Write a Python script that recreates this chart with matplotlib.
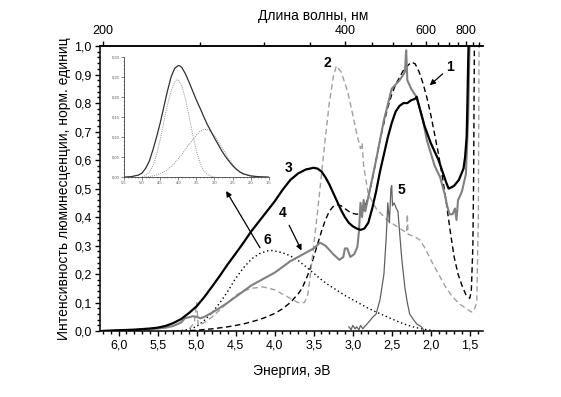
import numpy as np
import matplotlib
matplotlib.use('Agg')
import matplotlib.pyplot as plt
from matplotlib.ticker import MultipleLocator, FixedLocator, FuncFormatter

plt.rcParams['font.family'] = ['Liberation Sans', 'DejaVu Sans']

# curve 3 - black solid
e3 = [6.24, 6.0, 5.8, 5.6, 5.5, 5.4, 5.3, 5.2, 5.1, 5.0, 4.9, 4.8, 4.7, 4.6, 4.5, 4.4, 4.3, 4.2, 4.1, 4.0,
      3.9, 3.8, 3.7, 3.6, 3.5, 3.45, 3.4, 3.35, 3.3, 3.25, 3.2, 3.15, 3.1, 3.05, 3.0, 2.95, 2.9, 2.85, 2.8,
      2.75, 2.7, 2.65, 2.6, 2.55, 2.5, 2.45, 2.4, 2.35, 2.3, 2.25, 2.2, 2.18, 2.16, 2.12, 2.08, 2.04, 2.0,
      1.95, 1.9, 1.85, 1.8, 1.77, 1.73, 1.7, 1.67, 1.64, 1.61, 1.58, 1.56, 1.54, 1.53, 1.52, 1.51]
i3 = [0.0, 0.003, 0.005, 0.009, 0.012, 0.018, 0.028, 0.042, 0.063, 0.087, 0.12, 0.157, 0.195, 0.235, 0.272, 0.31, 0.35, 0.385, 0.42, 0.455,
      0.495, 0.53, 0.553, 0.567, 0.573, 0.57, 0.56, 0.54, 0.515, 0.485, 0.455, 0.425, 0.40, 0.38, 0.368, 0.36, 0.355, 0.36, 0.38,
      0.43, 0.49, 0.56, 0.62, 0.68, 0.73, 0.77, 0.79, 0.80, 0.80, 0.81, 0.815, 0.822, 0.80, 0.76, 0.72, 0.69, 0.66,
      0.63, 0.60, 0.56, 0.52, 0.50, 0.505, 0.51, 0.52, 0.53, 0.55, 0.57, 0.61, 0.68, 0.80, 0.95, 1.05]

# curve 1 - black dashed
e1 = [5.2, 5.0, 4.8, 4.6, 4.4, 4.2, 4.1, 4.0, 3.9, 3.8, 3.7, 3.65, 3.6, 3.55, 3.5, 3.45, 3.4, 3.35, 3.3,
      3.25, 3.2, 3.15, 3.1, 3.05, 3.0, 2.95, 2.9, 2.85, 2.8, 2.75, 2.7, 2.65, 2.6, 2.55, 2.5, 2.45, 2.4,
      2.35, 2.3, 2.25, 2.2, 2.15, 2.1, 2.05, 2.0, 1.95, 1.9, 1.85, 1.8, 1.75, 1.7, 1.65, 1.6, 1.55, 1.5,
      1.48, 1.46, 1.45, 1.44]
i1 = [0.0, 0.003, 0.008, 0.015, 0.025, 0.04, 0.05, 0.062, 0.078, 0.10, 0.13, 0.15, 0.18, 0.215, 0.26, 0.305, 0.35, 0.39, 0.42,
      0.437, 0.443, 0.44, 0.43, 0.42, 0.413, 0.41, 0.412, 0.43, 0.47, 0.53, 0.60, 0.67, 0.73, 0.785, 0.83, 0.865, 0.89,
      0.915, 0.93, 0.943, 0.938, 0.91, 0.87, 0.82, 0.76, 0.69, 0.62, 0.54, 0.45, 0.35, 0.26, 0.20, 0.16, 0.128, 0.115,
      0.14, 0.30, 0.55, 1.05]

# curve 2 - gray dashed
e2 = [5.2, 5.1, 5.03, 5.0, 4.98, 4.9, 4.8, 4.7, 4.6, 4.5, 4.4, 4.3, 4.15, 4.0, 3.9, 3.8, 3.7, 3.62, 3.58, 3.55,
      3.5, 3.45, 3.4, 3.35, 3.3, 3.25, 3.21, 3.15, 3.1, 3.06, 3.0, 2.95, 2.9, 2.88, 2.86, 2.8, 2.7, 2.56, 2.45,
      2.31, 2.30, 2.29, 2.2, 2.14, 2.07, 2.0, 1.94, 1.88, 1.8, 1.72, 1.63, 1.55, 1.48, 1.45, 1.41, 1.39, 1.38]
i2 = [0.0, 0.005, 0.03, 0.10, 0.02, 0.03, 0.05, 0.075, 0.10, 0.125, 0.14, 0.15, 0.155, 0.145, 0.13, 0.115, 0.10, 0.10, 0.12, 0.18,
      0.30, 0.42, 0.55, 0.68, 0.80, 0.89, 0.93, 0.91, 0.87, 0.835, 0.76, 0.695, 0.64, 0.66, 0.58, 0.48, 0.43, 0.39, 0.37,
      0.345, 0.41, 0.34, 0.33, 0.32, 0.29, 0.25, 0.22, 0.19, 0.15, 0.12, 0.095, 0.08, 0.067, 0.07, 0.10, 0.40, 1.05]

# curve 4 - gray solid
e4 = [6.24, 6.0, 5.6, 5.4, 5.3, 5.2, 5.15, 5.05, 5.0, 4.95, 4.9, 4.8, 4.7, 4.6, 4.5, 4.4, 4.3, 4.2, 4.1, 4.0, 3.9,
      3.8, 3.7, 3.6, 3.5, 3.42, 3.35, 3.25, 3.17, 3.12, 3.1, 3.07, 3.03, 2.98, 2.94, 2.92, 2.9, 2.88, 2.86,
      2.84, 2.8, 2.7, 2.6, 2.5, 2.4, 2.35, 2.33, 2.315, 2.30, 2.25, 2.18, 2.1, 2.05, 1.95, 1.88, 1.82, 1.79,
      1.76, 1.72, 1.69, 1.67, 1.65, 1.6, 1.55, 1.52, 1.50]
i4 = [0.0, 0.002, 0.006, 0.012, 0.018, 0.03, 0.045, 0.052, 0.05, 0.045, 0.05, 0.065, 0.082, 0.10, 0.12, 0.14, 0.16, 0.175, 0.19, 0.205, 0.225,
      0.245, 0.26, 0.275, 0.29, 0.31, 0.30, 0.27, 0.25, 0.26, 0.29, 0.29, 0.26, 0.27, 0.295, 0.35, 0.45, 0.40, 0.46,
      0.42, 0.47, 0.60, 0.74, 0.85, 0.88, 0.90, 0.91, 0.985, 0.88, 0.85, 0.82, 0.74, 0.67, 0.58, 0.54, 0.48, 0.44,
      0.41, 0.41, 0.43, 0.39, 0.46, 0.49, 0.55, 0.75, 1.05]

# curve 5 - narrow peak
e5 = [3.05, 3.02, 3.0, 2.97, 2.95, 2.92, 2.9, 2.87, 2.85, 2.8, 2.74, 2.7, 2.65, 2.6, 2.57, 2.55, 2.53,
      2.51, 2.5, 2.49, 2.47, 2.44, 2.42, 2.4, 2.37, 2.33, 2.3, 2.27, 2.22, 2.18, 2.12, 2.08]
i5 = [0.015, 0.005, 0.02, 0.008, 0.015, 0.005, 0.02, 0.008, 0.015, 0.03, 0.05, 0.06, 0.11, 0.2, 0.33, 0.45, 0.38,
      0.50, 0.51, 0.44, 0.45, 0.43, 0.42, 0.35, 0.25, 0.15, 0.10, 0.06, 0.04, 0.025, 0.015, 0.0]

# curve 6 - black dotted
e6 = [5.3, 5.2, 5.1, 5.0, 4.9, 4.8, 4.7, 4.6, 4.5, 4.4, 4.3, 4.2, 4.1, 4.05, 4.0, 3.9, 3.8, 3.7, 3.6, 3.5,
      3.4, 3.3, 3.2, 3.1, 3.0, 2.9, 2.8, 2.7, 2.6, 2.5, 2.4, 2.3, 2.2, 2.1, 2.0, 1.9]
i6 = [0.0, 0.002, 0.006, 0.016, 0.038, 0.065, 0.10, 0.14, 0.185, 0.222, 0.252, 0.271, 0.281, 0.283, 0.281, 0.275, 0.264, 0.248, 0.226, 0.203,
      0.18, 0.16, 0.143, 0.125, 0.11, 0.095, 0.08, 0.067, 0.055, 0.043, 0.031, 0.021, 0.013, 0.007, 0.003, 0.0]

# inset: total and two components
ein = [5.5, 5.3, 5.1, 5.0, 4.9, 4.8, 4.7, 4.6, 4.5, 4.4, 4.3, 4.2, 4.1, 4.0, 3.95, 3.9, 3.8, 3.7, 3.6,
       3.5, 3.4, 3.3, 3.2, 3.1, 3.0, 2.9, 2.8, 2.7, 2.6, 2.5, 2.4, 2.3, 2.2, 2.0, 1.8, 1.5]
iin = [0.0, 0.001, 0.005, 0.01, 0.022, 0.04, 0.068, 0.10, 0.135, 0.175, 0.215, 0.25, 0.272, 0.279, 0.278, 0.274, 0.258, 0.237, 0.215,
       0.193, 0.173, 0.152, 0.132, 0.115, 0.098, 0.082, 0.066, 0.052, 0.040, 0.029, 0.02, 0.013, 0.008, 0.003, 0.001, 0.0]
ea = [5.0, 4.9, 4.8, 4.7, 4.6, 4.5, 4.4, 4.3, 4.2, 4.1, 4.05, 4.0, 3.9, 3.8, 3.7, 3.6, 3.5, 3.4, 3.3, 3.2, 3.1, 3.0]
ia = [0.0, 0.004, 0.012, 0.028, 0.055, 0.093, 0.138, 0.18, 0.215, 0.238, 0.243, 0.242, 0.228, 0.195, 0.152, 0.106, 0.066, 0.036, 0.017, 0.007, 0.002, 0.0]
eb = [4.9, 4.7, 4.5, 4.3, 4.1, 3.9, 3.7, 3.5, 3.4, 3.3, 3.2, 3.1, 3.0, 2.9, 2.8, 2.7, 2.6, 2.5, 2.4, 2.3, 2.2, 2.0, 1.8]
ib = [0.0, 0.003, 0.008, 0.018, 0.035, 0.057, 0.082, 0.105, 0.114, 0.119, 0.119, 0.114, 0.104, 0.09, 0.075, 0.06, 0.045, 0.032, 0.021, 0.013, 0.008, 0.002, 0.0]

wl_major = [200, 400, 600, 800]
wl_minor = [250, 300, 350, 450, 500, 550, 650, 700, 750, 850, 900]

comma = FuncFormatter(lambda v, p: ('%.1f' % v).replace('.', ','))

fig = plt.figure(figsize=(5.61, 3.97), dpi=100)
ax = fig.add_axes([0.178, 0.166, 0.683, 0.718])

ax.plot(e6, i6, color='k', linestyle=(0, (1, 2)), linewidth=1.0)
ax.plot(e1, i1, color='k', linestyle=(0, (4, 2.5)), linewidth=1.0)
ax.plot(e2, i2, color='#a0a0a0', linestyle=(0, (4, 2.5)), linewidth=1.0)
ax.plot(e5, i5, color='#606060', linewidth=0.9)
ax.plot(e4, i4, color='#808080', linewidth=1.5)
ax.plot(e3, i3, color='k', linewidth=1.6)

ax.set_xlim(6.24, 1.33)
ax.set_ylim(0, 1.0)
ax.xaxis.set_major_locator(MultipleLocator(0.5))
ax.xaxis.set_minor_locator(MultipleLocator(0.1))
ax.yaxis.set_major_locator(MultipleLocator(0.1))
ax.yaxis.set_minor_locator(MultipleLocator(0.02))
ax.xaxis.set_major_formatter(comma)
ax.yaxis.set_major_formatter(comma)
ax.tick_params(which='major', direction='out', length=3.5, width=1, labelsize=9, pad=2.5)
ax.tick_params(which='minor', direction='out', length=2.2, width=1)
ax.spines['right'].set_visible(False)
for s in ['left', 'bottom', 'top']:
    ax.spines[s].set_linewidth(1.1)
ax.set_xlabel('Энергия, эВ', fontsize=10, labelpad=9)
ax.set_ylabel('Интенсивность люминесценции, норм. единиц', fontsize=10, labelpad=2)

top = ax.twiny()
top.set_xlim(ax.get_xlim())
top.xaxis.set_major_locator(FixedLocator([1240.0 / w for w in wl_major]))
top.xaxis.set_minor_locator(FixedLocator([1240.0 / w for w in wl_minor]))
top.set_xticklabels([str(w) for w in wl_major])
top.tick_params(which='major', direction='out', length=3.5, width=1, labelsize=9, pad=3)
top.tick_params(which='minor', direction='out', length=3, width=1)
for s in ['left', 'right', 'bottom']:
    top.spines[s].set_visible(False)
top.spines['top'].set_linewidth(1.1)
top.set_xlabel('Длина волны, нм', fontsize=10)
top.xaxis.set_label_coords(0.556, 1.09)

lab = dict(fontsize=10, fontweight='bold', ha='center', va='center')
ax.text(1.756, 0.926, '1', **lab)
ax.text(3.33, 0.94, '2', **lab)
ax.text(3.82, 0.572, '3', **lab)
ax.text(3.90, 0.414, '4', **lab)
ax.text(2.38, 0.495, '5', **lab)
ax.text(4.09, 0.32, '6', **lab)
arr = dict(arrowstyle='-|>', color='k', lw=0.9, mutation_scale=8)
ax.annotate('', xy=(2.04, 0.856), xytext=(1.82, 0.909), arrowprops=arr)
ax.annotate('', xy=(3.64, 0.274), xytext=(3.83, 0.38), arrowprops=arr)
ax.annotate('', xy=(4.64, 0.50), xytext=(4.17, 0.284), arrowprops=arr)

ins = fig.add_axes([0.221, 0.554, 0.258, 0.302])
ins.plot(ea, ia, color='#909090', linestyle=(0, (1, 1.2)), linewidth=0.7)
ins.plot(eb, ib, color='#909090', linestyle=(0, (1, 1.2)), linewidth=0.7)
ins.plot(ein, iin, color='#303030', linewidth=0.9)
ins.set_xlim(5.5, 1.5)
ins.set_ylim(0, 0.30)
ins.patch.set_alpha(0)
ins.spines['right'].set_visible(False)
ins.spines['top'].set_visible(False)
for s in ['left', 'bottom']:
    ins.spines[s].set_linewidth(0.6)
    ins.spines[s].set_color('#404040')
ins.xaxis.set_major_locator(MultipleLocator(0.5))
ins.xaxis.set_minor_locator(MultipleLocator(0.1))
ins.yaxis.set_major_locator(MultipleLocator(0.05))
ins.yaxis.set_minor_locator(MultipleLocator(0.01))
ins.yaxis.set_major_formatter(FuncFormatter(lambda v, p: ('%.2f' % v).replace('.', ',')))
ins.xaxis.set_major_formatter(FuncFormatter(lambda v, p: '%.1f' % v))
ins.tick_params(which='major', direction='out', length=2, width=0.5, labelsize=3, pad=1, colors='#555555')
ins.tick_params(which='minor', direction='out', length=1, width=0.4, colors='#555555')

fig.savefig('out.png', dpi=100)
